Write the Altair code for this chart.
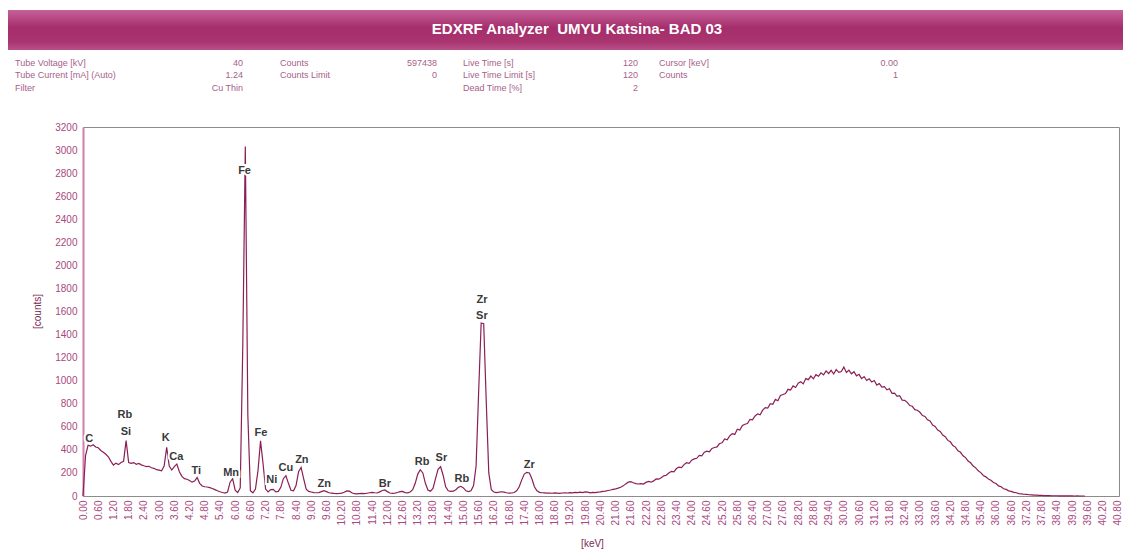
import altair as alt
import pandas as pd

# ---------------- spectrum (counts per 0.1 keV channel group) ----------------
counts_00_09 = [0, 350, 440, 432, 445, 425, 418, 395, 380, 362]
counts_10_19 = [340, 300, 268, 285, 272, 290, 300, 480, 290, 283]
counts_20_29 = [290, 275, 282, 270, 262, 255, 258, 245, 240, 228]
counts_30_39 = [225, 218, 260, 421, 260, 225, 255, 277, 210, 170]
counts_40_49 = [150, 145, 135, 120, 130, 160, 110, 87, 80, 78]
counts_50_59 = [72, 65, 55, 45, 37, 30, 25, 35, 120, 150]
counts_60_69 = [50, 30, 70, 1300, 3030, 700, 45, 28, 60, 220]
counts_70_79 = [478, 280, 60, 35, 55, 58, 35, 40, 75, 150]
counts_80_89 = [176, 110, 50, 45, 90, 210, 248, 150, 60, 40]
counts_90_99 = [35, 30, 28, 30, 38, 46, 38, 28, 25, 22]
counts_100_109 = [20, 22, 25, 32, 44, 42, 28, 20, 18, 20]
counts_110_119 = [22, 20, 24, 28, 32, 28, 26, 36, 48, 52]
counts_120_129 = [38, 26, 22, 25, 30, 38, 40, 30, 28, 35]
counts_130_139 = [55, 110, 190, 228, 200, 110, 52, 42, 65, 150]
counts_140_149 = [232, 254, 180, 80, 45, 40, 42, 55, 75, 84]
counts_150_159 = [70, 45, 38, 45, 90, 260, 900, 1500, 1495, 820]
counts_160_169 = [200, 55, 35, 30, 33, 37, 34, 28, 25, 26]
counts_170_179 = [30, 45, 80, 140, 190, 205, 200, 150, 80, 45]
counts_180_189 = [32, 28, 27, 25, 26, 24, 27, 25, 23, 26]
counts_190_199 = [28, 26, 30, 27, 31, 29, 33, 30, 35, 34]
counts_200_209 = [28, 31, 30, 34, 36, 40, 43, 48, 52, 57]
counts_210_219 = [62, 68, 76, 88, 105, 120, 125, 115, 108, 104]
counts_220_229 = [108, 104, 118, 126, 120, 131, 148, 146, 158, 175]
counts_230_239 = [180, 199, 214, 209, 238, 251, 246, 272, 289, 283]
counts_240_249 = [311, 322, 327, 352, 348, 380, 389, 384, 412, 421]
counts_250_259 = [426, 455, 461, 494, 488, 522, 540, 534, 579, 572]
counts_260_269 = [611, 622, 628, 665, 660, 694, 712, 705, 745, 766]
counts_270_279 = [762, 801, 796, 838, 826, 871, 880, 889, 925, 918]
counts_280_289 = [955, 941, 978, 990, 972, 1018, 1009, 1040, 1016, 1052]
counts_290_299 = [1038, 1068, 1050, 1085, 1062, 1090, 1058, 1096, 1072, 1080]
counts_300_309 = [1118, 1071, 1092, 1060, 1078, 1042, 1055, 1018, 1036, 1002]
counts_310_319 = [1016, 988, 1001, 962, 975, 944, 948, 921, 930, 890]
counts_320_329 = [892, 864, 870, 832, 830, 812, 784, 778, 749, 744]
counts_330_339 = [726, 698, 690, 661, 650, 615, 604, 572, 560, 528]
counts_340_349 = [515, 482, 470, 438, 424, 392, 379, 349, 333, 303]
counts_350_359 = [288, 260, 244, 218, 203, 178, 166, 148, 136, 117]
counts_360_369 = [108, 88, 80, 63, 57, 45, 40, 31, 28, 21]
counts_370_379 = [19, 15, 14, 11, 10, 8, 7, 5, 5, 3]
counts_380_389 = [3, 3, 2, 2, 2, 1, 1, 1, 1, 1]
counts_390_395 = [1, 0, 1, 0, 0, 0]

counts = (counts_00_09 + counts_10_19 + counts_20_29 + counts_30_39 + counts_40_49
          + counts_50_59 + counts_60_69 + counts_70_79 + counts_80_89 + counts_90_99
          + counts_100_109 + counts_110_119 + counts_120_129 + counts_130_139
          + counts_140_149 + counts_150_159 + counts_160_169 + counts_170_179
          + counts_180_189 + counts_190_199 + counts_200_209 + counts_210_219
          + counts_220_229 + counts_230_239 + counts_240_249 + counts_250_259
          + counts_260_269 + counts_270_279 + counts_280_289 + counts_290_299
          + counts_300_309 + counts_310_319 + counts_320_329 + counts_330_339
          + counts_340_349 + counts_350_359 + counts_360_369 + counts_370_379
          + counts_380_389 + counts_390_395)
channel_step_kev = 0.1
energy_kev = [round(i * channel_step_kev, 1) for i in range(len(counts))]

# ---------------- peak labels ----------------
peak_names = ["C", "Rb", "Si", "K", "Ca", "Ti", "Mn", "Fe", "Fe", "Ni", "Cu", "Zn", "Zn",
              "Br", "Rb", "Sr", "Rb", "Zr", "Sr", "Zr"]
peak_kev = [0.25, 1.65, 1.69, 3.26, 3.68, 4.47, 5.84, 6.37, 7.02, 7.44, 8.00, 8.63, 9.51,
            11.90, 13.37, 14.13, 14.94, 15.73, 15.73, 17.60]
peak_label_counts = [492, 702, 558, 500, 336, 220, 202, 2821, 549, 139, 240, 312, 104,
                     104, 298, 327, 145, 1700, 1561, 269]

# ---------------- axes ----------------
x_tick_kev = [0.0, 0.6, 1.2, 1.8, 2.4, 3.0, 3.6, 4.2, 4.8, 5.4, 6.0, 6.6, 7.2, 7.8, 8.4,
              9.0, 9.6, 10.2, 10.8, 11.4, 12.0, 12.6, 13.2, 13.8, 14.4, 15.0, 15.6, 16.2,
              16.8, 17.4, 18.0, 18.6, 19.2, 19.8, 20.4, 21.0, 21.6, 22.2, 22.8, 23.4, 24.0,
              24.6, 25.2, 25.8, 26.4, 27.0, 27.6, 28.2, 28.8, 29.4, 30.0, 30.6, 31.2, 31.8,
              32.4, 33.0, 33.6, 34.2, 34.8, 35.4, 36.0, 36.6, 37.2, 37.8, 38.4, 39.0, 39.6,
              40.2, 40.8]
y_tick_counts = [0, 200, 400, 600, 800, 1000, 1200, 1400, 1600, 1800, 2000, 2200, 2400,
                 2600, 2800, 3000, 3200]

# ---------------- header texts ----------------
title_text = "EDXRF Analyzer\u00a0\u00a0UMYU Katsina- BAD 03"
info_col1_labels = ["Tube Voltage [kV]", "Tube Current [mA] (Auto)", "Filter"]
info_col1_values = ["40", "1.24", "Cu Thin"]
info_col2_labels = ["Counts", "Counts Limit", ""]
info_col2_values = ["597438", "0", ""]
info_col3_labels = ["Live Time [s]", "Live Time Limit [s]", "Dead Time [%]"]
info_col3_values = ["120", "120", "2"]
info_col4_labels = ["Cursor [keV]", "Counts", ""]
info_col4_values = ["0.00", "1", ""]

# ---------------- layout (pixels relative to plot origin) ----------------
W, H = 1036, 369
FONT = "Liberation Sans"
LINE_COLOR = "#8a1f55"
PINK = "#a8487e"

spec_df = pd.DataFrame({"energy": energy_kev, "counts": counts})
peaks_df = pd.DataFrame({"name": peak_names, "energy": peak_kev, "counts": peak_label_counts})

row_y = [-64, -52, -39]
col_label_x = [-68, 197, 380, 576]
col_value_x = [160, 354, 555, 815]
info_rows = []
for c, (labs, vals) in enumerate([(info_col1_labels, info_col1_values),
                                  (info_col2_labels, info_col2_values),
                                  (info_col3_labels, info_col3_values),
                                  (info_col4_labels, info_col4_values)]):
    for r in range(3):
        if labs[r]:
            info_rows.append({"t": labs[r], "px": col_label_x[c], "py": row_y[r], "al": "left"})
        if vals[r]:
            info_rows.append({"t": vals[r], "px": col_value_x[c], "py": row_y[r], "al": "right"})
info_df = pd.DataFrame(info_rows)

xscale = alt.Scale(domain=[0, 40.85], nice=False, zero=False)
yscale = alt.Scale(domain=[0, 3200], nice=False)

x_axis = alt.Axis(values=x_tick_kev, format=".2f", labelAngle=-90, labelOverlap=False,
                  labelFlush=False, labelBound=False, ticks=False, labelPadding=4,
                  labelFontSize=10, labelColor=PINK, labelFont=FONT, domainColor="#8c8c8c",
                  title="[keV]", titleFont=FONT, titleFontSize=10,
                  titleFontWeight="normal", titleColor="#7a2a55",
                  titleX=509, titleY=47, titleBaseline="middle", grid=False)
y_axis = alt.Axis(values=y_tick_counts, format="d", ticks=False, labelPadding=6,
                  labelOverlap=False, labelFlush=False, labelBound=False,
                  labelFontSize=10, labelColor=PINK, labelFont=FONT,
                  domainColor="#d27fb0", domainWidth=2,
                  title="[counts]", titleFont=FONT, titleFontSize=10,
                  titleFontWeight="normal", titleColor="#7a2a55",
                  titleX=-46, titleY=184, titleAlign="center",
                  titleBaseline="middle", grid=False)

line = alt.Chart(spec_df).mark_line(color=LINE_COLOR, strokeWidth=1.2).encode(
    x=alt.X("energy:Q", scale=xscale, axis=x_axis),
    y=alt.Y("counts:Q", scale=yscale, axis=y_axis),
)

halo = alt.Chart(peaks_df).mark_text(font=FONT, fontSize=11, fontWeight="bold",
                                     color="white", stroke="white", strokeWidth=4,
                                     baseline="middle").encode(
    x=alt.X("energy:Q", scale=xscale, axis=x_axis),
    y=alt.Y("counts:Q", scale=yscale, axis=y_axis), text="name:N")
labels = alt.Chart(peaks_df).mark_text(font=FONT, fontSize=11, fontWeight="bold",
                                       color="#3a3a3a", baseline="middle").encode(
    x=alt.X("energy:Q", scale=xscale, axis=x_axis),
    y=alt.Y("counts:Q", scale=yscale, axis=y_axis), text="name:N")

banner = alt.Chart(pd.DataFrame({"a": [0]})).mark_rect(
    color=alt.LinearGradient(gradient="linear",
                             stops=[alt.GradientStop(color="#c56199", offset=0),
                                    alt.GradientStop(color="#a52d6c", offset=0.45),
                                    alt.GradientStop(color="#a9356f", offset=0.8),
                                    alt.GradientStop(color="#b9508a", offset=1)],
                             x1=0, x2=0, y1=0, y2=1)
).encode(x=alt.value(-75), x2=alt.value(W + 4), y=alt.value(-117), y2=alt.value(-77))

title = alt.Chart(pd.DataFrame({"t": [title_text]})).mark_text(
    font=FONT, fontSize=15, fontWeight="bold", color="white", align="center",
    baseline="middle").encode(x=alt.value(494), y=alt.value(-98), text="t:N")

info_left = alt.Chart(info_df[info_df.al == "left"]).mark_text(
    font=FONT, fontSize=9, color="#a8608a", align="left", baseline="middle").encode(
    x=alt.X("px:Q", scale=None), y=alt.Y("py:Q", scale=None), text="t:N")
info_right = alt.Chart(info_df[info_df.al == "right"]).mark_text(
    font=FONT, fontSize=9, color="#a8608a", align="right", baseline="middle").encode(
    x=alt.X("px:Q", scale=None), y=alt.Y("py:Q", scale=None), text="t:N")

chart = alt.layer(banner, title, info_left, info_right, line, halo, labels).properties(
    width=W, height=H,
    padding={"left": 75, "top": 119, "right": 4, "bottom": 53},
    autosize=alt.AutoSizeParams(type="none"),
    background="white",
).configure_view(stroke="#8c8c8c", strokeWidth=1)

chart.save("out.html", embed_options={"renderer": "svg", "actions": False})
